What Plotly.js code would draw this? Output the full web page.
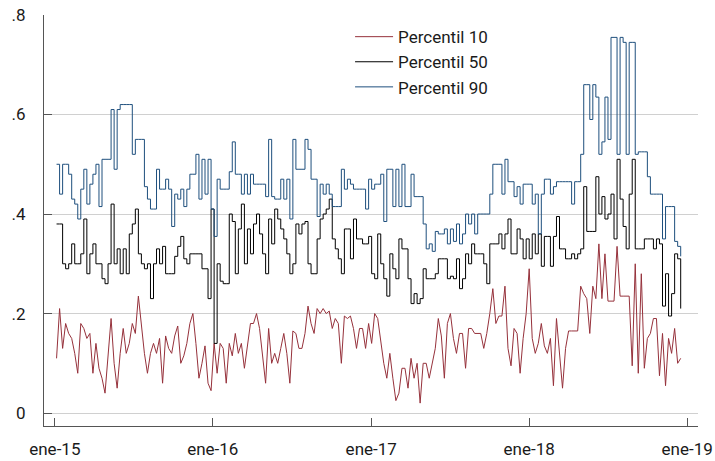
<!DOCTYPE html>
<html>
<head>
<meta charset="utf-8">
<script src="https://cdn.plot.ly/plotly-3.0.1.min.js"></script>
<style>
  html, body { margin: 0; padding: 0; background: #fff; }
  #chart { width: 715px; height: 461px; }
</style>
</head>
<body>
<div id="chart"></div>
<script>
// Weekly observations starting on this date
const startDate = '2015-01-05';
const stepDays = 7;

const seriesNames = ['Percentil 10', 'Percentil 50', 'Percentil 90'];

const p10 = [
  .11,.21,.13,.18,.16,.15,.12,.08,.18,.17,.15,.16,.08,.14,.09,.07,.04,.12,.19,.10,.05,.12,.17,.12,.14,.18,.16,.235,.17,.12,.08,.12,.14,.12,
  .15,.06,.155,.13,.12,.155,.175,.10,.115,.14,.18,.20,.14,.07,.10,.135,.06,.045,.14,.08,.14,.13,.06,.14,.115,.16,.12,.14,.09,.14,.18,.18,.20,.17,.12,
  .06,.17,.10,.12,.10,.13,.16,.12,.06,.165,.16,.13,.13,.16,.215,.18,.16,.21,.20,.21,.20,.205,.17,.19,.18,.10,.195,.19,.195,.17,.13,.17,.17,.13,.18,
  .14,.20,.19,.14,.10,.07,.12,.07,.025,.04,.09,.09,.05,.11,.07,.10,.02,.10,.10,.07,.10,.13,.19,.155,.07,.18,.20,.15,.12,.16,.16,.09,.17,.17,
  .16,.16,.16,.13,.16,.20,.25,.18,.195,.195,.255,.13,.095,.17,.16,.08,.15,.20,.29,.15,.12,.14,.18,.135,.12,.15,.055,.19,.12,.05,.13,.165,.165,.165,.165,
  .255,.24,.23,.16,.255,.23,.34,.23,.32,.225,.225,.225,.335,.235,.235,.235,.235,.095,.30,.08,.28,.09,.15,.16,.19,.19,.075,.16,.055,.15,.12,.17,.10,.11
];

const p50 = [
  .38,.38,.30,.29,.30,.34,.30,.30,.32,.39,.28,.32,.34,.30,.30,.27,.26,.30,.42,.30,.33,.28,.33,.28,.36,.38,.41,.32,.30,.29,.30,.23,.30,.33,
  .30,.335,.28,.28,.28,.315,.335,.355,.31,.30,.32,.32,.32,.32,.29,.29,.23,.41,.14,.30,.265,.26,.26,.40,.385,.28,.37,.42,.30,.37,.32,.38,.40,.36,.32,
  .28,.39,.34,.41,.39,.37,.35,.32,.28,.30,.38,.36,.38,.385,.30,.28,.28,.35,.39,.40,.41,.43,.35,.33,.31,.28,.37,.37,.31,.39,.35,.35,.34,.34,.355,
  .28,.27,.36,.30,.27,.235,.32,.29,.27,.35,.33,.33,.27,.22,.24,.22,.23,.29,.27,.27,.27,.28,.31,.31,.31,.27,.275,.27,.31,.25,.27,.32,.30,.34,
  .32,.32,.32,.30,.26,.34,.34,.34,.36,.33,.36,.39,.32,.32,.37,.35,.31,.35,.31,.36,.32,.36,.295,.355,.355,.295,.355,.395,.33,.33,.31,.31,.32,.31,.32,
  .33,.455,.365,.365,.365,.475,.40,.435,.39,.40,.44,.35,.51,.43,.375,.33,.44,.51,.33,.33,.33,.35,.35,.35,.33,.35,.34,.215,.28,.195,.24,.32,.31,.21
];

const p90 = [
  .50,.44,.50,.50,.48,.43,.42,.39,.45,.49,.42,.46,.48,.50,.415,.51,.51,.51,.61,.49,.61,.62,.62,.62,.62,.52,.55,.55,.55,.455,.43,.41,.41,.49,
  .45,.45,.47,.45,.375,.44,.43,.45,.415,.45,.48,.48,.52,.43,.51,.44,.51,.41,.355,.47,.45,.45,.45,.485,.545,.48,.48,.44,.48,.44,.48,.46,.46,.46,.46,
  .435,.55,.435,.43,.43,.47,.43,.47,.39,.55,.49,.49,.49,.55,.53,.47,.47,.395,.46,.44,.46,.44,.415,.415,.415,.49,.45,.47,.46,.45,.45,.45,.45,.41,.47,
  .45,.46,.46,.48,.385,.49,.49,.415,.49,.415,.50,.415,.415,.48,.435,.435,.435,.38,.33,.34,.325,.365,.36,.36,.37,.34,.37,.345,.38,.34,.36,.40,.38,.40,
  .36,.40,.40,.40,.40,.44,.50,.50,.50,.44,.51,.465,.465,.435,.455,.42,.46,.46,.46,.42,.44,.36,.44,.47,.47,.44,.455,.465,.465,.465,.465,.465,.42,.465,.465,
  .52,.66,.66,.59,.66,.635,.52,.545,.635,.55,.755,.755,.52,.755,.745,.52,.745,.745,.52,.525,.525,.525,.475,.44,.44,.44,.44,.35,.415,.415,.415,.345,.335,.315
];

const yTickVals = [0, 0.2, 0.4, 0.6, 0.8];
const yTickText = ['0', '.2', '.4', '.6', '.8'];
const xTickVals = ['2015-01-01', '2016-01-01', '2017-01-01', '2018-01-01', '2019-01-01'];
const xTickText = ['ene-15', 'ene-16', 'ene-17', 'ene-18', 'ene-19'];

function weeklyDates(n) {
  const out = [];
  const t0 = new Date(startDate + 'T00:00:00Z').getTime();
  for (let i = 0; i < n; i++) {
    const d = new Date(t0 + i * stepDays * 86400000);
    out.push(d.toISOString().slice(0, 10));
  }
  return out;
}
const dates = weeklyDates(p10.length);

const colors = ['#96313B', '#000000', '#1E4F7D'];
const shapes = ['linear', 'hv', 'hv'];
const values = [p10, p50, p90];

const traces = values.map((v, k) => ({
  x: dates,
  y: v,
  type: 'scatter',
  mode: 'lines',
  name: seriesNames[k],
  line: { color: colors[k], width: 1, shape: shapes[k] }
}));

const layout = {
  width: 715,
  height: 461,
  margin: { l: 44, r: 17, t: 15, b: 35 },
  paper_bgcolor: '#ffffff',
  plot_bgcolor: '#ffffff',
  font: { family: 'Roboto, sans-serif', size: 17, color: '#1a1a1a' },
  showlegend: true,
  legend: {
    x: 0.468, y: 0.99, xanchor: 'left', yanchor: 'top',
    bgcolor: 'rgba(0,0,0,0)',
    font: { family: 'Roboto, sans-serif', size: 17, color: '#1a1a1a' },
    itemwidth: 38,
    tracegroupgap: 0
  },
  xaxis: {
    type: 'date',
    range: ['2014-12-07', '2019-01-26'],
    tickvals: xTickVals,
    ticktext: xTickText,
    ticks: 'inside',
    ticklen: 8,
    tickcolor: '#555',
    showgrid: false,
    showline: true,
    linecolor: '#555',
    linewidth: 1,
    zeroline: false,
    ticklabelstandoff: 8
  },
  yaxis: {
    range: [-0.026, 0.8],
    tickvals: yTickVals,
    ticktext: yTickText,
    ticks: 'inside',
    ticklen: 8,
    tickcolor: '#555',
    showgrid: true,
    gridcolor: '#d0d0d0',
    gridwidth: 1,
    showline: true,
    linecolor: '#555',
    linewidth: 1,
    zeroline: false,
    ticklabelstandoff: 14
  }
};

Plotly.newPlot('chart', traces, layout, { displayModeBar: false, staticPlot: true });
</script>
</body>
</html>
